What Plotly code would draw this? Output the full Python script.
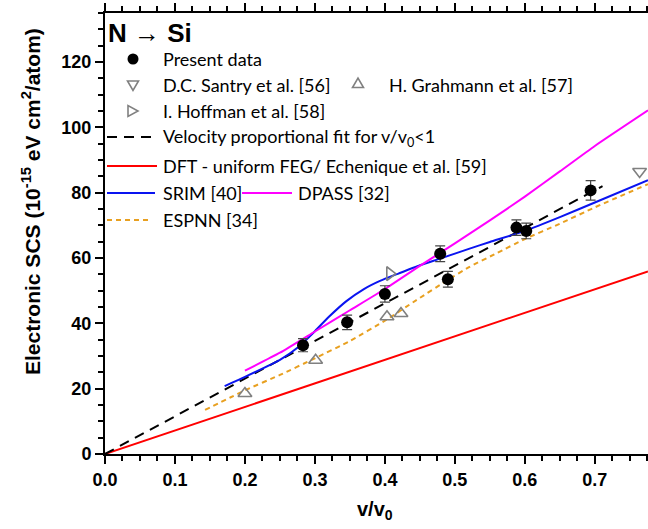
import plotly.graph_objects as go

# ---------------- data ----------------
present_v = [0.283, 0.346, 0.400, 0.479, 0.490, 0.588, 0.602, 0.694]
present_s = [33.3, 40.3, 49.0, 61.3, 53.5, 69.3, 68.3, 80.7]
present_err = [2.0, 2.2, 2.5, 2.4, 2.4, 2.4, 2.4, 3.0]

santry_v = [0.764]
santry_s = [86.5]

grahmann_v = [0.200, 0.301, 0.403, 0.423]
grahmann_s = [18.5, 28.7, 42.0, 43.0]

hoffman_v = [0.407]
hoffman_s = [55.2]

fit_v = [0.0, 0.711]
fit_s = [0.0, 82.0]

dft_v = [0.0, 0.776]
dft_s = [0.0, 55.9]

srim_v = [0.171, 0.20, 0.25, 0.275, 0.30, 0.32, 0.345, 0.37, 0.393, 0.42, 0.45, 0.48,
          0.52, 0.55, 0.60, 0.65, 0.70, 0.776]
srim_s = [20.8, 23.6, 28.8, 32.5, 37.6, 42.0, 46.8, 50.5, 53.0, 55.3, 57.8, 59.9,
          62.8, 64.9, 68.3, 72.5, 77.0, 83.8]

dpass_v = [0.20, 0.25, 0.30, 0.35, 0.40, 0.45, 0.50, 0.55, 0.60, 0.65, 0.70, 0.776]
dpass_s = [25.5, 31.0, 37.5, 44.0, 50.5, 57.6, 64.5, 71.5, 78.8, 86.5, 94.3, 105.2]

espnn_v = [0.143, 0.179, 0.20, 0.25, 0.30, 0.35, 0.40, 0.445, 0.49, 0.521, 0.56,
           0.60, 0.65, 0.70, 0.776]
espnn_s = [13.5, 17.3, 19.5, 24.2, 29.3, 34.6, 40.8, 47.1, 53.3, 57.3, 61.5,
           65.8, 70.5, 75.5, 82.6]

x_ticks = [0.0, 0.1, 0.2, 0.3, 0.4, 0.5, 0.6, 0.7]
x_ticklabels = ["0.0", "0.1", "0.2", "0.3", "0.4", "0.5", "0.6", "0.7"]
y_ticks = [0, 20, 40, 60, 80, 100, 120]

# ---------------- styles ----------------
W, H = 648, 529
L, R, T, B = 105, 0, 13, 75
PW, PH = W - L - R, H - T - B
GREY = "#808080"
RED = "#ff0000"
BLUE = "#0a14f0"
MAG = "#ff00ff"
ORANGE = "#e8a020"
TXT = "Lato"
BOLD = "Liberation Sans, Arial"


def px(x):
    return (x - L) / PW


def py(y):
    return (H - B - y) / PH


fig = go.Figure()

fig.add_trace(go.Scatter(x=dft_v, y=dft_s, mode="lines",
                         line=dict(color=RED, width=2)))
fig.add_trace(go.Scatter(x=fit_v, y=fit_s, mode="lines",
                         line=dict(color="black", width=2, dash="10px,7px")))
fig.add_trace(go.Scatter(x=espnn_v, y=espnn_s, mode="lines",
                         line=dict(color=ORANGE, width=2, dash="5px,4px", shape="spline", smoothing=0.5)))
fig.add_trace(go.Scatter(x=srim_v, y=srim_s, mode="lines",
                         line=dict(color=BLUE, width=2, shape="spline", smoothing=0.5)))
fig.add_trace(go.Scatter(x=dpass_v, y=dpass_s, mode="lines",
                         line=dict(color=MAG, width=2, shape="spline", smoothing=0.5)))
fig.add_trace(go.Scatter(x=grahmann_v, y=grahmann_s, mode="markers",
                         marker=dict(symbol="triangle-up-open", size=12, color=GREY,
                                     line=dict(width=1.6, color=GREY))))
fig.add_trace(go.Scatter(x=santry_v, y=santry_s, mode="markers",
                         marker=dict(symbol="triangle-down-open", size=12, color=GREY,
                                     line=dict(width=1.6, color=GREY))))
fig.add_trace(go.Scatter(x=hoffman_v, y=hoffman_s, mode="markers",
                         marker=dict(symbol="triangle-right-open", size=12, color=GREY,
                                     line=dict(width=1.6, color=GREY))))
fig.add_trace(go.Scatter(x=present_v, y=present_s, mode="markers",
                         error_y=dict(type="data", array=present_err, color="#444444",
                                      thickness=1.2, width=5),
                         marker=dict(symbol="circle", size=12, color="black")))

# ---------------- legend (drawn manually) ----------------
shapes = []
annotations = []


def label(x, y, text, size=18, font=TXT, **kw):
    annotations.append(dict(x=px(x), y=py(y), xref="paper", yref="paper", text=text,
                            showarrow=False, xanchor="left", yanchor="middle",
                            font=dict(family=font, size=size, color="black"), **kw))


def hline(x0, x1, y, color, dash="solid"):
    shapes.append(dict(type="line", xref="paper", yref="paper",
                       x0=px(x0), x1=px(x1), y0=py(y), y1=py(y),
                       line=dict(color=color, width=2, dash=dash)))


def tri(points):
    d = "M " + " L ".join(f"{px(a):.5f},{py(b):.5f}" for a, b in points) + " Z"
    shapes.append(dict(type="path", xref="paper", yref="paper", path=d,
                       line=dict(color=GREY, width=1.6)))


annotations.append(dict(x=px(106), y=py(33), xref="paper", yref="paper",
                        text="<b>N → Si</b>", showarrow=False, xanchor="left",
                        yanchor="middle", font=dict(family=BOLD, size=26, color="black")))

# Present data
shapes.append(dict(type="circle", xref="paper", yref="paper",
                   x0=px(127.5), x1=px(138.5), y0=py(53.5), y1=py(64.5),
                   fillcolor="black", line=dict(color="black", width=0)))
label(161, 59, "Present data")
# Santry
tri([(127.5, 81), (138.5, 81), (133, 90.5)])
label(161, 85, "D.C. Santry et al. [56]")
# Grahmann
tri([(352.5, 87.5), (363.5, 87.5), (358, 78)])
label(387, 85, "H. Grahmann et al. [57]")
# Hoffman
tri([(128, 105.5), (128, 116.5), (138, 111)])
label(161, 111, "I. Hoffman et al. [58]")
# Velocity fit
hline(107, 157, 137, "black", dash="10px,7px")
label(161, 137, "Velocity proportional fit for v/v<sub>0</sub>&lt;1")
# DFT
hline(107, 157, 166, RED)
label(161, 166, "DFT - uniform FEG/ Echenique et al. [59]")
# SRIM / DPASS
hline(107, 155, 193, BLUE)
label(161, 193, "SRIM [40]")
hline(242, 292, 193, MAG)
label(296, 193, "DPASS [32]")
# ESPNN
hline(107, 152, 220, ORANGE, dash="5px,4px")
label(161, 220, "ESPNN [34]")

# axis titles
annotations.append(dict(x=px(31), y=py(202), xref="paper", yref="paper",
                        text="<b>Electronic SCS (10<sup>-15</sup> eV cm<sup>2</sup>/atom)</b>",
                        showarrow=False, textangle=-90, xanchor="center", yanchor="middle",
                        font=dict(family=BOLD, size=21, color="black")))
annotations.append(dict(x=px(375), y=py(510), xref="paper", yref="paper",
                        text="<b>v/v<sub>0</sub></b>", showarrow=False,
                        xanchor="center", yanchor="middle",
                        font=dict(family=BOLD, size=20, color="black")))

fig.update_layout(
    width=W, height=H,
    margin=dict(l=L, r=R, t=T, b=B),
    paper_bgcolor="white", plot_bgcolor="white",
    showlegend=False,
    shapes=shapes, annotations=annotations,
    xaxis=dict(range=[0, 0.776], tickvals=x_ticks, ticktext=x_ticklabels,
               showline=True, linecolor="black", linewidth=2, mirror="ticks",
               ticks="outside", ticklen=8, tickwidth=2, tickcolor="black",
               showgrid=False, zeroline=False, automargin=False,
               tickfont=dict(family=BOLD, size=18, color="black", weight="bold"),
               minor=dict(dtick=0.025, tick0=0, ticks="outside", ticklen=5, tickwidth=1.5,
                          tickcolor="black", showgrid=False)),
    yaxis=dict(range=[0, 135], tickvals=y_ticks,
               showline=True, linecolor="black", linewidth=2,
               ticks="outside", ticklen=8, tickwidth=2, tickcolor="black",
               showgrid=False, zeroline=False, automargin=False,
               tickfont=dict(family=BOLD, size=18, color="black", weight="bold"),
               minor=dict(dtick=5, tick0=0, ticks="outside", ticklen=5, tickwidth=1.5,
                          tickcolor="black", showgrid=False)),
)

fig.write_html("out.html", config={"displayModeBar": False},
               post_script="document.body.style.margin='0px';document.body.style.padding='0px';")
